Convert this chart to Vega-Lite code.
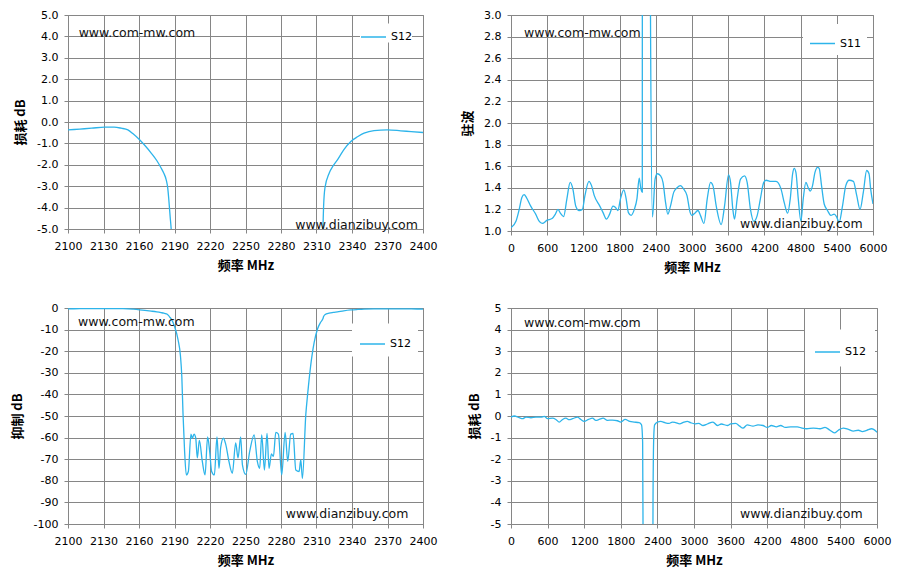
{
  "$schema": "https://vega.github.io/schema/vega-lite/v6.json",
  "background": "white",
  "padding": {"left": 10, "top": 8, "right": 5, "bottom": 5},
  "columns": 2,
  "spacing": {"row": 77, "column": 88},
  "bounds": "flush",
  "resolve": {"scale": {"color": "independent"}, "legend": {"color": "independent"}},
  "datasets": {
    "narrow": [
      {"f": 2100, "v": -0.37, "series": "S12"},
      {"f": 2110, "v": -0.33, "series": "S12"},
      {"f": 2120, "v": -0.29, "series": "S12"},
      {"f": 2131, "v": -0.24, "series": "S12"},
      {"f": 2139, "v": -0.24, "series": "S12"},
      {"f": 2145, "v": -0.29, "series": "S12"},
      {"f": 2150.6, "v": -0.37, "series": "S12"},
      {"f": 2155, "v": -0.55, "series": "S12"},
      {"f": 2160.5, "v": -0.83, "series": "S12"},
      {"f": 2165, "v": -1.1, "series": "S12"},
      {"f": 2170.3, "v": -1.45, "series": "S12"},
      {"f": 2175, "v": -1.8, "series": "S12"},
      {"f": 2178.7, "v": -2.15, "series": "S12"},
      {"f": 2181, "v": -2.4, "series": "S12"},
      {"f": 2183, "v": -2.7, "series": "S12"},
      {"f": 2184.3, "v": -3.09, "series": "S12"},
      {"f": 2185.2, "v": -3.63, "series": "S12"},
      {"f": 2186.3, "v": -4.41, "series": "S12"},
      {"f": 2187.2, "v": -5.0, "series": "S12"},
      {"f": 2190, "v": -8.5, "series": "S12"},
      {"f": 2193, "v": -14.7, "series": "S12"},
      {"f": 2195, "v": -22, "series": "S12"},
      {"f": 2196.2, "v": -32, "series": "S12"},
      {"f": 2197.2, "v": -49, "series": "S12"},
      {"f": 2198.5, "v": -66, "series": "S12"},
      {"f": 2200, "v": -77.3, "series": "S12"},
      {"f": 2201.7, "v": -75.7, "series": "S12"},
      {"f": 2203.9, "v": -58.4, "series": "S12"},
      {"f": 2205, "v": -60.3, "series": "S12"},
      {"f": 2206.5, "v": -58.4, "series": "S12"},
      {"f": 2207.9, "v": -60, "series": "S12"},
      {"f": 2209.3, "v": -69.4, "series": "S12"},
      {"f": 2211, "v": -61.3, "series": "S12"},
      {"f": 2213.5, "v": -71, "series": "S12"},
      {"f": 2215.8, "v": -77.3, "series": "S12"},
      {"f": 2218, "v": -59.7, "series": "S12"},
      {"f": 2219.7, "v": -66.3, "series": "S12"},
      {"f": 2221.4, "v": -75.7, "series": "S12"},
      {"f": 2223.7, "v": -77.3, "series": "S12"},
      {"f": 2225.9, "v": -59.7, "series": "S12"},
      {"f": 2227.6, "v": -74.2, "series": "S12"},
      {"f": 2229, "v": -64.7, "series": "S12"},
      {"f": 2231.3, "v": -60.3, "series": "S12"},
      {"f": 2233.3, "v": -63.1, "series": "S12"},
      {"f": 2236, "v": -71, "series": "S12"},
      {"f": 2238.9, "v": -76.5, "series": "S12"},
      {"f": 2241.7, "v": -62.4, "series": "S12"},
      {"f": 2243.7, "v": -69.4, "series": "S12"},
      {"f": 2245.9, "v": -59.7, "series": "S12"},
      {"f": 2247.4, "v": -72.6, "series": "S12"},
      {"f": 2250.2, "v": -77, "series": "S12"},
      {"f": 2253.6, "v": -66.3, "series": "S12"},
      {"f": 2257.3, "v": -58.7, "series": "S12"},
      {"f": 2260, "v": -71, "series": "S12"},
      {"f": 2262, "v": -74.2, "series": "S12"},
      {"f": 2263.7, "v": -58.7, "series": "S12"},
      {"f": 2266, "v": -75, "series": "S12"},
      {"f": 2268.2, "v": -58.1, "series": "S12"},
      {"f": 2269.9, "v": -74.2, "series": "S12"},
      {"f": 2271.9, "v": -67.6, "series": "S12"},
      {"f": 2273.6, "v": -68.7, "series": "S12"},
      {"f": 2275.6, "v": -57.6, "series": "S12"},
      {"f": 2277.8, "v": -58.4, "series": "S12"},
      {"f": 2280.6, "v": -77.3, "series": "S12"},
      {"f": 2283.5, "v": -57.6, "series": "S12"},
      {"f": 2285.7, "v": -71, "series": "S12"},
      {"f": 2288.2, "v": -58.4, "series": "S12"},
      {"f": 2290.2, "v": -58.1, "series": "S12"},
      {"f": 2292.5, "v": -75, "series": "S12"},
      {"f": 2295.3, "v": -75.7, "series": "S12"},
      {"f": 2296.7, "v": -70.2, "series": "S12"},
      {"f": 2298.1, "v": -78.9, "series": "S12"},
      {"f": 2301, "v": -49, "series": "S12"},
      {"f": 2302.5, "v": -40, "series": "S12"},
      {"f": 2305, "v": -27, "series": "S12"},
      {"f": 2308, "v": -16, "series": "S12"},
      {"f": 2311, "v": -9.5, "series": "S12"},
      {"f": 2313.5, "v": -6.6, "series": "S12"},
      {"f": 2315.4, "v": -5.0, "series": "S12"},
      {"f": 2316, "v": -3.94, "series": "S12"},
      {"f": 2317.1, "v": -3.09, "series": "S12"},
      {"f": 2320.7, "v": -2.39, "series": "S12"},
      {"f": 2324, "v": -2.05, "series": "S12"},
      {"f": 2327.7, "v": -1.77, "series": "S12"},
      {"f": 2333, "v": -1.3, "series": "S12"},
      {"f": 2339, "v": -0.91, "series": "S12"},
      {"f": 2345, "v": -0.68, "series": "S12"},
      {"f": 2350.2, "v": -0.52, "series": "S12"},
      {"f": 2358.6, "v": -0.4, "series": "S12"},
      {"f": 2369.9, "v": -0.37, "series": "S12"},
      {"f": 2381.1, "v": -0.41, "series": "S12"},
      {"f": 2390, "v": -0.45, "series": "S12"},
      {"f": 2400, "v": -0.49, "series": "S12"}
    ],
    "s11": [
      {"f": 0, "v": 1.03, "series": "S11"},
      {"f": 82, "v": 1.09, "series": "S11"},
      {"f": 136, "v": 1.2, "series": "S11"},
      {"f": 180, "v": 1.31, "series": "S11"},
      {"f": 218, "v": 1.336, "series": "S11"},
      {"f": 256, "v": 1.31, "series": "S11"},
      {"f": 327, "v": 1.23, "series": "S11"},
      {"f": 409, "v": 1.156, "series": "S11"},
      {"f": 463, "v": 1.094, "series": "S11"},
      {"f": 518, "v": 1.07, "series": "S11"},
      {"f": 600, "v": 1.1, "series": "S11"},
      {"f": 681, "v": 1.115, "series": "S11"},
      {"f": 736, "v": 1.156, "series": "S11"},
      {"f": 779, "v": 1.2, "series": "S11"},
      {"f": 818, "v": 1.165, "series": "S11"},
      {"f": 872, "v": 1.134, "series": "S11"},
      {"f": 927, "v": 1.3, "series": "S11"},
      {"f": 981, "v": 1.45, "series": "S11"},
      {"f": 1025, "v": 1.39, "series": "S11"},
      {"f": 1074, "v": 1.23, "series": "S11"},
      {"f": 1128, "v": 1.19, "series": "S11"},
      {"f": 1183, "v": 1.2, "series": "S11"},
      {"f": 1226, "v": 1.33, "series": "S11"},
      {"f": 1292, "v": 1.46, "series": "S11"},
      {"f": 1335, "v": 1.42, "series": "S11"},
      {"f": 1379, "v": 1.33, "series": "S11"},
      {"f": 1472, "v": 1.23, "series": "S11"},
      {"f": 1526, "v": 1.17, "series": "S11"},
      {"f": 1581, "v": 1.11, "series": "S11"},
      {"f": 1635, "v": 1.156, "series": "S11"},
      {"f": 1690, "v": 1.23, "series": "S11"},
      {"f": 1728, "v": 1.22, "series": "S11"},
      {"f": 1772, "v": 1.19, "series": "S11"},
      {"f": 1815, "v": 1.3, "series": "S11"},
      {"f": 1870, "v": 1.38, "series": "S11"},
      {"f": 1908, "v": 1.3, "series": "S11"},
      {"f": 1946, "v": 1.17, "series": "S11"},
      {"f": 1990, "v": 1.145, "series": "S11"},
      {"f": 2044, "v": 1.2, "series": "S11"},
      {"f": 2088, "v": 1.3, "series": "S11"},
      {"f": 2125, "v": 1.49, "series": "S11"},
      {"f": 2150, "v": 1.4, "series": "S11"},
      {"f": 2176, "v": 1.36, "series": "S11"},
      {"f": 2186, "v": 25, "series": "S11"},
      {"f": 2250, "v": 60, "series": "S11"},
      {"f": 2305, "v": 25, "series": "S11"},
      {"f": 2312, "v": 3.0, "series": "S11"},
      {"f": 2345, "v": 1.13, "series": "S11"},
      {"f": 2388, "v": 1.48, "series": "S11"},
      {"f": 2425, "v": 1.53, "series": "S11"},
      {"f": 2480, "v": 1.51, "series": "S11"},
      {"f": 2519, "v": 1.45, "series": "S11"},
      {"f": 2563, "v": 1.26, "series": "S11"},
      {"f": 2600, "v": 1.156, "series": "S11"},
      {"f": 2643, "v": 1.23, "series": "S11"},
      {"f": 2698, "v": 1.36, "series": "S11"},
      {"f": 2752, "v": 1.4, "series": "S11"},
      {"f": 2807, "v": 1.42, "series": "S11"},
      {"f": 2861, "v": 1.39, "series": "S11"},
      {"f": 2916, "v": 1.33, "series": "S11"},
      {"f": 2970, "v": 1.17, "series": "S11"},
      {"f": 2995, "v": 1.145, "series": "S11"},
      {"f": 3055, "v": 1.17, "series": "S11"},
      {"f": 3099, "v": 1.19, "series": "S11"},
      {"f": 3143, "v": 1.14, "series": "S11"},
      {"f": 3198, "v": 1.07, "series": "S11"},
      {"f": 3253, "v": 1.3, "series": "S11"},
      {"f": 3308, "v": 1.45, "series": "S11"},
      {"f": 3347, "v": 1.42, "series": "S11"},
      {"f": 3402, "v": 1.23, "series": "S11"},
      {"f": 3484, "v": 1.06, "series": "S11"},
      {"f": 3539, "v": 1.23, "series": "S11"},
      {"f": 3606, "v": 1.52, "series": "S11"},
      {"f": 3639, "v": 1.45, "series": "S11"},
      {"f": 3677, "v": 1.2, "series": "S11"},
      {"f": 3705, "v": 1.11, "series": "S11"},
      {"f": 3749, "v": 1.3, "series": "S11"},
      {"f": 3804, "v": 1.48, "series": "S11"},
      {"f": 3870, "v": 1.51, "series": "S11"},
      {"f": 3914, "v": 1.45, "series": "S11"},
      {"f": 3969, "v": 1.2, "series": "S11"},
      {"f": 4024, "v": 1.09, "series": "S11"},
      {"f": 4079, "v": 1.14, "series": "S11"},
      {"f": 4134, "v": 1.3, "series": "S11"},
      {"f": 4189, "v": 1.45, "series": "S11"},
      {"f": 4227, "v": 1.47, "series": "S11"},
      {"f": 4310, "v": 1.46, "series": "S11"},
      {"f": 4393, "v": 1.46, "series": "S11"},
      {"f": 4475, "v": 1.39, "series": "S11"},
      {"f": 4530, "v": 1.26, "series": "S11"},
      {"f": 4585, "v": 1.165, "series": "S11"},
      {"f": 4629, "v": 1.3, "series": "S11"},
      {"f": 4668, "v": 1.53, "series": "S11"},
      {"f": 4695, "v": 1.58, "series": "S11"},
      {"f": 4723, "v": 1.54, "series": "S11"},
      {"f": 4761, "v": 1.3, "series": "S11"},
      {"f": 4805, "v": 1.09, "series": "S11"},
      {"f": 4844, "v": 1.3, "series": "S11"},
      {"f": 4888, "v": 1.45, "series": "S11"},
      {"f": 4927, "v": 1.4, "series": "S11"},
      {"f": 4960, "v": 1.37, "series": "S11"},
      {"f": 4998, "v": 1.42, "series": "S11"},
      {"f": 5037, "v": 1.54, "series": "S11"},
      {"f": 5081, "v": 1.59, "series": "S11"},
      {"f": 5108, "v": 1.58, "series": "S11"},
      {"f": 5147, "v": 1.42, "series": "S11"},
      {"f": 5191, "v": 1.25, "series": "S11"},
      {"f": 5246, "v": 1.19, "series": "S11"},
      {"f": 5301, "v": 1.145, "series": "S11"},
      {"f": 5356, "v": 1.156, "series": "S11"},
      {"f": 5395, "v": 1.134, "series": "S11"},
      {"f": 5439, "v": 1.08, "series": "S11"},
      {"f": 5494, "v": 1.23, "series": "S11"},
      {"f": 5549, "v": 1.42, "series": "S11"},
      {"f": 5604, "v": 1.47, "series": "S11"},
      {"f": 5675, "v": 1.46, "series": "S11"},
      {"f": 5730, "v": 1.33, "series": "S11"},
      {"f": 5785, "v": 1.2, "series": "S11"},
      {"f": 5840, "v": 1.36, "series": "S11"},
      {"f": 5895, "v": 1.56, "series": "S11"},
      {"f": 5934, "v": 1.53, "series": "S11"},
      {"f": 5961, "v": 1.39, "series": "S11"},
      {"f": 6000, "v": 1.25, "series": "S11"}
    ],
    "wide": [
      {"f": 0, "v": -0.05, "series": "S12"},
      {"f": 55, "v": 0.0, "series": "S12"},
      {"f": 136, "v": -0.08, "series": "S12"},
      {"f": 191, "v": -0.125, "series": "S12"},
      {"f": 245, "v": -0.05, "series": "S12"},
      {"f": 327, "v": -0.08, "series": "S12"},
      {"f": 409, "v": -0.05, "series": "S12"},
      {"f": 491, "v": -0.05, "series": "S12"},
      {"f": 545, "v": -0.02, "series": "S12"},
      {"f": 600, "v": -0.125, "series": "S12"},
      {"f": 681, "v": -0.1, "series": "S12"},
      {"f": 736, "v": -0.16, "series": "S12"},
      {"f": 791, "v": -0.28, "series": "S12"},
      {"f": 845, "v": -0.16, "series": "S12"},
      {"f": 900, "v": -0.1, "series": "S12"},
      {"f": 954, "v": -0.17, "series": "S12"},
      {"f": 1009, "v": -0.125, "series": "S12"},
      {"f": 1091, "v": -0.05, "series": "S12"},
      {"f": 1145, "v": -0.16, "series": "S12"},
      {"f": 1200, "v": -0.25, "series": "S12"},
      {"f": 1271, "v": -0.16, "series": "S12"},
      {"f": 1336, "v": -0.1, "series": "S12"},
      {"f": 1391, "v": -0.2, "series": "S12"},
      {"f": 1445, "v": -0.16, "series": "S12"},
      {"f": 1510, "v": -0.1, "series": "S12"},
      {"f": 1581, "v": -0.2, "series": "S12"},
      {"f": 1663, "v": -0.19, "series": "S12"},
      {"f": 1745, "v": -0.22, "series": "S12"},
      {"f": 1800, "v": -0.28, "series": "S12"},
      {"f": 1871, "v": -0.16, "series": "S12"},
      {"f": 1947, "v": -0.25, "series": "S12"},
      {"f": 2018, "v": -0.28, "series": "S12"},
      {"f": 2100, "v": -0.31, "series": "S12"},
      {"f": 2140, "v": -0.41, "series": "S12"},
      {"f": 2158, "v": -1.2, "series": "S12"},
      {"f": 2166, "v": -6, "series": "S12"},
      {"f": 2180, "v": -40, "series": "S12"},
      {"f": 2200, "v": -70, "series": "S12"},
      {"f": 2300, "v": -60, "series": "S12"},
      {"f": 2316, "v": -20, "series": "S12"},
      {"f": 2328, "v": -4, "series": "S12"},
      {"f": 2340, "v": -1.0, "series": "S12"},
      {"f": 2354, "v": -0.41, "series": "S12"},
      {"f": 2400, "v": -0.28, "series": "S12"},
      {"f": 2455, "v": -0.25, "series": "S12"},
      {"f": 2525, "v": -0.31, "series": "S12"},
      {"f": 2591, "v": -0.34, "series": "S12"},
      {"f": 2645, "v": -0.28, "series": "S12"},
      {"f": 2700, "v": -0.31, "series": "S12"},
      {"f": 2765, "v": -0.36, "series": "S12"},
      {"f": 2836, "v": -0.28, "series": "S12"},
      {"f": 2891, "v": -0.25, "series": "S12"},
      {"f": 2945, "v": -0.31, "series": "S12"},
      {"f": 3011, "v": -0.36, "series": "S12"},
      {"f": 3077, "v": -0.34, "series": "S12"},
      {"f": 3148, "v": -0.44, "series": "S12"},
      {"f": 3219, "v": -0.37, "series": "S12"},
      {"f": 3311, "v": -0.28, "series": "S12"},
      {"f": 3383, "v": -0.44, "series": "S12"},
      {"f": 3448, "v": -0.37, "series": "S12"},
      {"f": 3546, "v": -0.44, "series": "S12"},
      {"f": 3601, "v": -0.37, "series": "S12"},
      {"f": 3683, "v": -0.34, "series": "S12"},
      {"f": 3749, "v": -0.47, "series": "S12"},
      {"f": 3803, "v": -0.56, "series": "S12"},
      {"f": 3874, "v": -0.41, "series": "S12"},
      {"f": 3967, "v": -0.47, "series": "S12"},
      {"f": 4049, "v": -0.41, "series": "S12"},
      {"f": 4131, "v": -0.44, "series": "S12"},
      {"f": 4202, "v": -0.53, "series": "S12"},
      {"f": 4268, "v": -0.44, "series": "S12"},
      {"f": 4350, "v": -0.5, "series": "S12"},
      {"f": 4421, "v": -0.44, "series": "S12"},
      {"f": 4497, "v": -0.53, "series": "S12"},
      {"f": 4585, "v": -0.5, "series": "S12"},
      {"f": 4694, "v": -0.5, "series": "S12"},
      {"f": 4771, "v": -0.56, "series": "S12"},
      {"f": 4847, "v": -0.59, "series": "S12"},
      {"f": 4956, "v": -0.56, "series": "S12"},
      {"f": 5066, "v": -0.59, "series": "S12"},
      {"f": 5148, "v": -0.53, "series": "S12"},
      {"f": 5230, "v": -0.66, "series": "S12"},
      {"f": 5301, "v": -0.78, "series": "S12"},
      {"f": 5366, "v": -0.66, "series": "S12"},
      {"f": 5448, "v": -0.56, "series": "S12"},
      {"f": 5530, "v": -0.62, "series": "S12"},
      {"f": 5612, "v": -0.7, "series": "S12"},
      {"f": 5694, "v": -0.66, "series": "S12"},
      {"f": 5760, "v": -0.72, "series": "S12"},
      {"f": 5831, "v": -0.66, "series": "S12"},
      {"f": 5913, "v": -0.59, "series": "S12"},
      {"f": 6000, "v": -0.75, "series": "S12"}
    ]
  },
  "concat": [
    {
      "width": 355,
      "height": 214,
      "layer": [
        {
          "data": {"name": "narrow"},
          "mark": {"type": "line", "interpolate": "monotone", "clip": true, "strokeWidth": 1.3},
          "encoding": {
            "x": {"field": "f", "type": "quantitative", "scale": {"domain": [2100, 2400], "nice": false, "zero": false},
                  "axis": {"title": "频率 MHz", "format": "d", "tickCount": 12, "values": [2100, 2130, 2160, 2190, 2220, 2250, 2280, 2310, 2340, 2370, 2400]}},
            "y": {"field": "v", "type": "quantitative", "scale": {"domain": [-5, 5], "nice": false, "zero": false},
                  "axis": {"title": "损耗 dB", "format": ".1f", "tickCount": 12, "values": [-5, -4, -3, -2, -1, 0, 1, 2, 3, 4, 5]}},
            "color": {"field": "series", "type": "nominal", "scale": {"range": ["#2DB4EA"]},
                      "legend": {"title": null, "legendX": 292, "legendY": 8.5, "padding": 0}}
          }
        },
        {
          "data": {"values": [
            {"f": 2109, "v": 4.16, "label": "www.com-mw.com"},
            {"f": 2292, "v": -4.81, "label": "www.dianzibuy.com"}
          ]},
          "mark": {"type": "text", "align": "left", "baseline": "middle", "font": "DejaVu Sans", "fontSize": 12.5, "color": "#111111"},
          "encoding": {
            "x": {"field": "f", "type": "quantitative"},
            "y": {"field": "v", "type": "quantitative"},
            "text": {"field": "label"}
          }
        }
      ]
    },
    {
      "width": 362,
      "height": 216,
      "layer": [
        {
          "data": {"name": "s11"},
          "mark": {"type": "line", "interpolate": "monotone", "clip": true, "strokeWidth": 1.3},
          "encoding": {
            "x": {"field": "f", "type": "quantitative", "scale": {"domain": [0, 6000], "nice": false},
                  "axis": {"title": "频率 MHz", "format": "d", "tickCount": 12, "values": [0, 600, 1200, 1800, 2400, 3000, 3600, 4200, 4800, 5400, 6000]}},
            "y": {"field": "v", "type": "quantitative", "scale": {"domain": [1, 3], "nice": false, "zero": false},
                  "axis": {"title": "驻波", "format": ".1f", "tickCount": 12, "values": [1, 1.2, 1.4, 1.6, 1.8, 2, 2.2, 2.4, 2.6, 2.8, 3]}},
            "color": {"field": "series", "type": "nominal", "scale": {"range": ["#2DB4EA"]},
                      "legend": {"title": null, "legendX": 292, "legendY": 9, "padding": 6}}
          }
        },
        {
          "data": {"values": [
            {"f": 215, "v": 2.833, "label": "www.com-mw.com"},
            {"f": 3796, "v": 1.065, "label": "www.dianzibuy.com"}
          ]},
          "mark": {"type": "text", "align": "left", "baseline": "middle", "font": "DejaVu Sans", "fontSize": 12.5, "color": "#111111"},
          "encoding": {
            "x": {"field": "f", "type": "quantitative"},
            "y": {"field": "v", "type": "quantitative"},
            "text": {"field": "label"}
          }
        }
      ]
    },
    {
      "width": 355,
      "height": 216,
      "layer": [
        {
          "data": {"name": "narrow"},
          "mark": {"type": "line", "interpolate": "monotone", "clip": true, "strokeWidth": 1.3},
          "encoding": {
            "x": {"field": "f", "type": "quantitative", "scale": {"domain": [2100, 2400], "nice": false, "zero": false},
                  "axis": {"title": "频率 MHz", "format": "d", "tickCount": 12, "values": [2100, 2130, 2160, 2190, 2220, 2250, 2280, 2310, 2340, 2370, 2400]}},
            "y": {"field": "v", "type": "quantitative", "scale": {"domain": [-100, 0], "nice": false},
                  "axis": {"title": "抑制 dB", "format": "d", "tickCount": 12, "values": [-100, -90, -80, -70, -60, -50, -40, -30, -20, -10, 0]}},
            "color": {"field": "series", "type": "nominal", "scale": {"range": ["#2DB4EA"]},
                      "legend": {"title": null, "legendX": 284, "legendY": 15.5, "padding": 7}}
          }
        },
        {
          "data": {"values": [
            {"f": 2108.5, "v": -6.5, "label": "www.com-mw.com"},
            {"f": 2284, "v": -95.4, "label": "www.dianzibuy.com"}
          ]},
          "mark": {"type": "text", "align": "left", "baseline": "middle", "font": "DejaVu Sans", "fontSize": 12.5, "color": "#111111"},
          "encoding": {
            "x": {"field": "f", "type": "quantitative"},
            "y": {"field": "v", "type": "quantitative"},
            "text": {"field": "label"}
          }
        }
      ]
    },
    {
      "width": 366,
      "height": 216,
      "layer": [
        {
          "data": {"name": "wide"},
          "mark": {"type": "line", "interpolate": "monotone", "clip": true, "strokeWidth": 1.3},
          "encoding": {
            "x": {"field": "f", "type": "quantitative", "scale": {"domain": [0, 6000], "nice": false},
                  "axis": {"title": "频率 MHz", "format": "d", "tickCount": 12, "values": [0, 600, 1200, 1800, 2400, 3000, 3600, 4200, 4800, 5400, 6000]}},
            "y": {"field": "v", "type": "quantitative", "scale": {"domain": [-5, 5], "nice": false, "zero": false},
                  "axis": {"title": "损耗 dB", "format": "d", "tickCount": 12, "values": [-5, -4, -3, -2, -1, 0, 1, 2, 3, 4, 5]}},
            "color": {"field": "series", "type": "nominal", "scale": {"range": ["#2DB4EA"]},
                      "legend": {"title": null, "legendX": 294, "legendY": 21.5, "padding": 9}}
          }
        },
        {
          "data": {"values": [
            {"f": 213, "v": 4.31, "label": "www.com-mw.com"},
            {"f": 3754, "v": -4.54, "label": "www.dianzibuy.com"}
          ]},
          "mark": {"type": "text", "align": "left", "baseline": "middle", "font": "DejaVu Sans", "fontSize": 12.5, "color": "#111111"},
          "encoding": {
            "x": {"field": "f", "type": "quantitative"},
            "y": {"field": "v", "type": "quantitative"},
            "text": {"field": "label"}
          }
        }
      ]
    }
  ],
  "config": {
    "locale": {"number": {"decimal": ".", "thousands": ",", "grouping": [3], "currency": ["$", ""], "minus": "-"}},
    "view": {"stroke": "#868686", "strokeWidth": 1},
    "font": "DejaVu Sans",
    "axis": {
      "grid": true,
      "gridColor": "#868686",
      "gridOpacity": 1,
      "gridWidth": 1,
      "domainColor": "#868686",
      "tickColor": "#868686",
      "tickSize": 4,
      "labelFont": "DejaVu Sans",
      "labelFontSize": 11,
      "labelColor": "#000000",
      "labelOverlap": false,
      "labelFlush": false,
      "titleFont": "Noto Sans CJK SC",
      "titleFontSize": 13,
      "titleFontWeight": "bold",
      "titleColor": "#000000"
    },
    "axisX": {"labelPadding": 7, "titlePadding": 8},
    "axisY": {"labelPadding": 6, "titlePadding": 9},
    "legend": {
      "orient": "none",
      "fillColor": "#ffffff",
      "symbolType": "stroke",
      "symbolSize": 625,
      "symbolStrokeWidth": 1.5,
      "labelFont": "DejaVu Sans",
      "labelFontSize": 11,
      "labelColor": "#000000",
      "labelOffset": 4
    }
  }
}
